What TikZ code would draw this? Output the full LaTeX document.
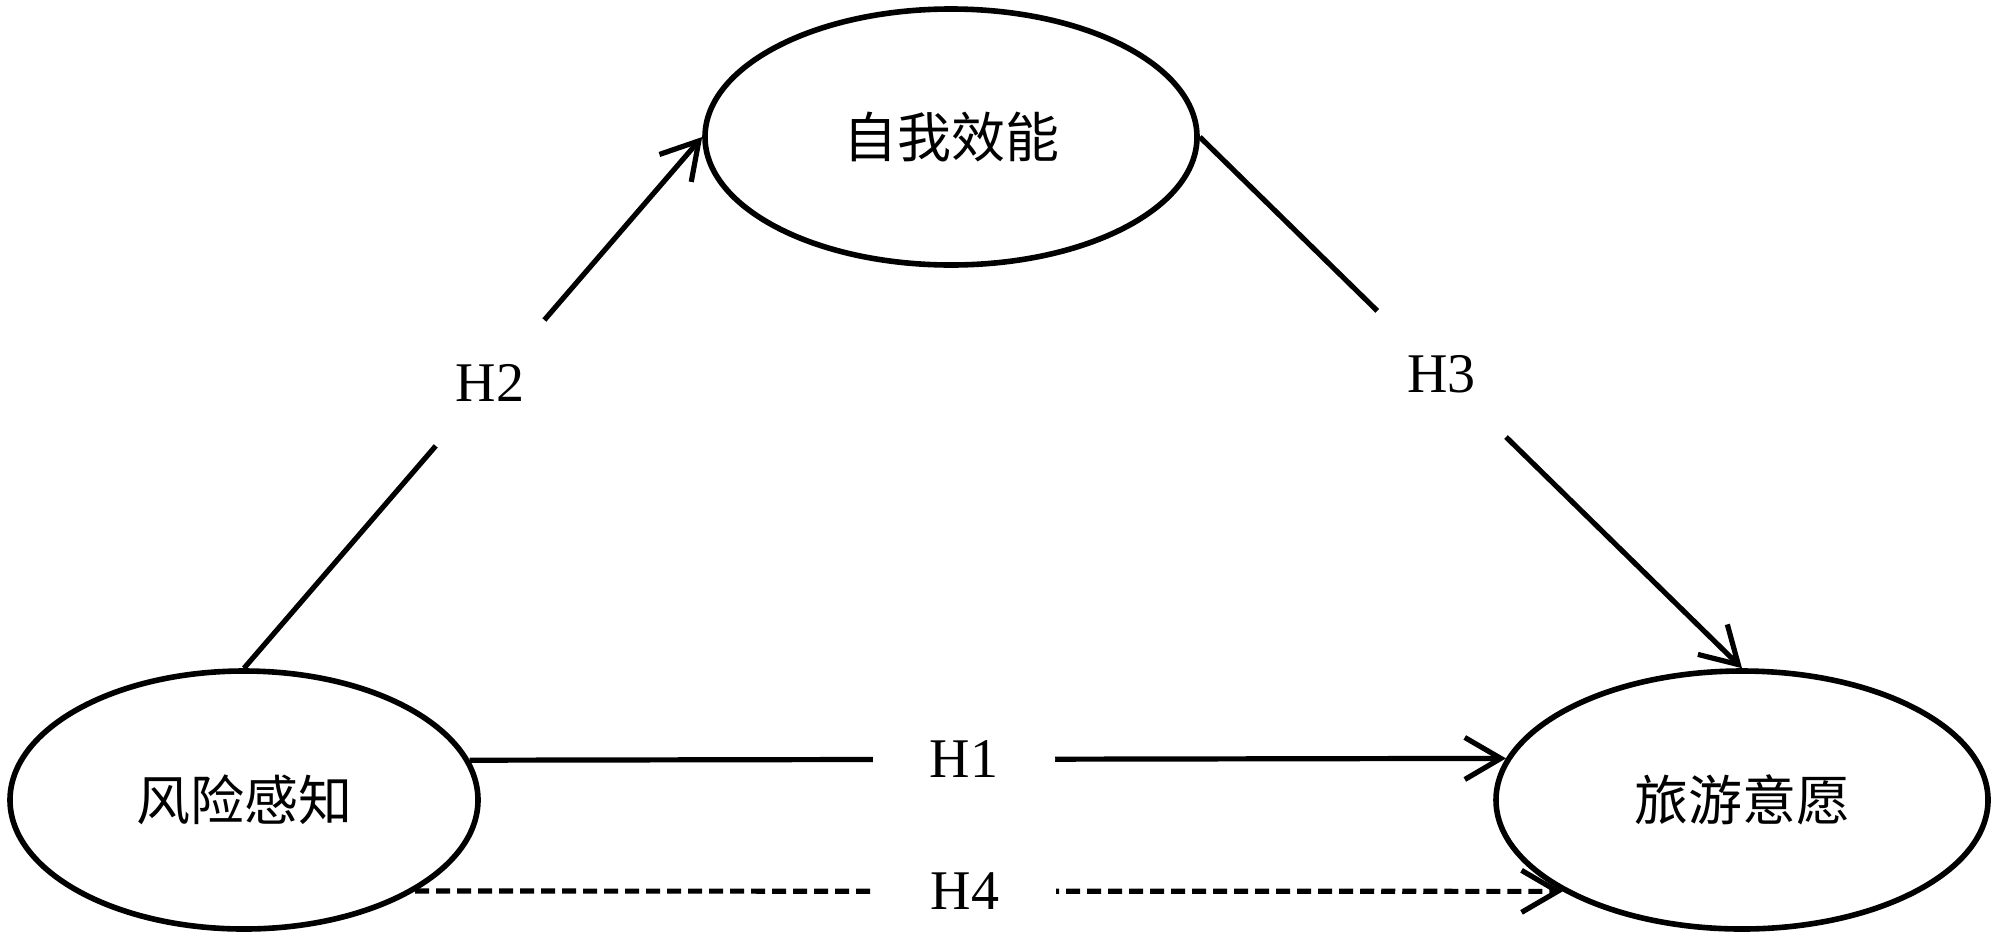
\documentclass[tikz,border=0pt]{standalone}
\usepackage{fontspec}
\setmainfont{Liberation Serif}
\newfontfamily\cjk{Noto Sans CJK SC}
\usetikzlibrary{shapes.geometric,arrows.meta}
\tikzset{
  construct/.style={draw, line width=2.8pt, shape=ellipse, inner sep=0pt,
    font=\cjk\fontsize{27pt}{27pt}\selectfont},
  conn/.style={line width=2.6pt, -{Straight Barb[length=18pt,width=21pt]}},
  dashconn/.style={conn, dash pattern=on 7pt off 3.5pt},
  hlab/.style={shape=circle, fill=white, inner sep=0pt,
    font=\fontsize{28pt}{28pt}\selectfont}
}
\begin{document}
\begin{tikzpicture}[x=0.5pt,y=-0.5pt]
\useasboundingbox (0,0) rectangle (2000,938);
\node[construct, minimum width=234pt, minimum height=129pt] (L) at (244,800) {风险感知};
\node[construct, minimum width=246pt, minimum height=128pt] (T) at (951,137) {自我效能};
\node[construct, minimum width=246pt, minimum height=129pt] (R) at (1742,800) {旅游意愿};
\draw[conn] (L.north) -- node[hlab, pos=0.537, minimum size=83pt] (h2) {H2} (T.west);
\draw[conn] (T.east) -- node[hlab, pos=0.446, minimum size=90pt] (h3) {H3} (R.north);
\draw[conn] (L.10) -- node[hlab, pos=0.477, minimum size=91pt] (h1) {H1} (R.170);
\draw[dashconn] (L.-28) -- node[hlab, pos=0.479, minimum size=91pt] (h4) {H4} (R.-153.4);
\end{tikzpicture}
\end{document}
